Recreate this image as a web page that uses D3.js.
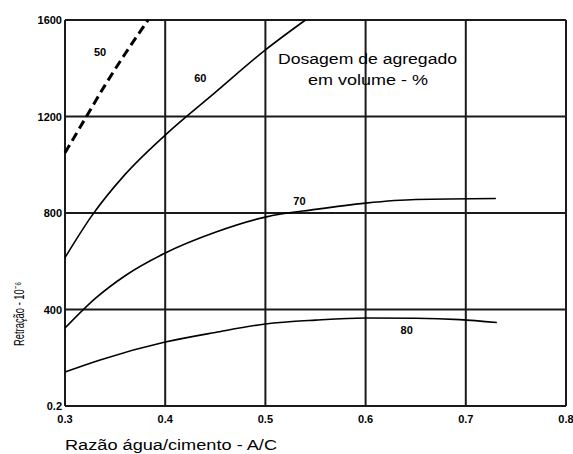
<!DOCTYPE html>
<html><head><meta charset="utf-8">
<script src="https://cdn.jsdelivr.net/npm/d3@7"></script>
<style>body{margin:0;background:#fff;}svg{display:block;}</style>
</head><body>
<script>
// Data
const xTicks = [0.3, 0.4, 0.5, 0.6, 0.7, 0.8];
const xTickLabels = ["0.3", "0.4", "0.5", "0.6", "0.7", "0.8"];
const yTicks = [0, 400, 800, 1200, 1600];
const yTickLabels = ["0.2", "400", "800", "1200", "1600"];

const series50 = [[0.3,1050],[0.32,1190],[0.34,1330],[0.36,1460],[0.383,1600]];
const series60 = [[0.3,615],[0.327,790],[0.36,960],[0.4,1123],[0.45,1300],[0.5,1476],[0.54,1600]];
const series70 = [[0.3,323],[0.33,445],[0.36,540],[0.4,634],[0.45,720],[0.5,783],[0.55,815],[0.6,841],[0.65,856],[0.73,860]];
const series80 = [[0.3,141],[0.335,191],[0.4,265],[0.45,305],[0.5,340],[0.55,356],[0.6,365],[0.65,364],[0.694,358],[0.731,346]];
const seriesNames = ["50","60","70","80"];

const W = 573, H = 454;
const svg = d3.select("body").append("svg").attr("width", W).attr("height", H);
const x = d3.scaleLinear().domain([0.3, 0.8]).range([65, 566]);
const y = d3.scaleLinear().domain([0, 1600]).range([406, 20]);

const grid = svg.append("g").attr("stroke", "#1a1a1a").attr("stroke-width", 2);
xTicks.forEach(t => grid.append("line").attr("x1", x(t)).attr("x2", x(t)).attr("y1", y(0)).attr("y2", y(1600)));
yTicks.forEach(t => grid.append("line").attr("x1", x(0.3)).attr("x2", x(0.8)).attr("y1", y(t)).attr("y2", y(t)));

const font = "Liberation Sans, Arial, sans-serif";
// tick labels
xTicks.forEach((t, i) => svg.append("text").attr("x", x(t)).attr("y", y(0) + 17)
  .attr("text-anchor", "middle").attr("font-family", font).attr("font-size", 11).attr("font-weight", "bold")
  .text(xTickLabels[i]));
yTicks.forEach((t, i) => svg.append("text").attr("x", x(0.3) - 3).attr("y", y(t) + 4)
  .attr("text-anchor", "end").attr("font-family", font).attr("font-size", 11).attr("font-weight", "bold")
  .text(yTickLabels[i]));

const line = d3.line().x(d => x(d[0])).y(d => y(d[1])).curve(d3.curveMonotoneX);
const curves = svg.append("g").attr("fill", "none").attr("stroke", "#000");
curves.append("path").datum(series50).attr("d", line).attr("stroke-width", 3).attr("stroke-dasharray", "9,5");
[series60, series70, series80].forEach(s => curves.append("path").datum(s).attr("d", line).attr("stroke-width", 1.6));

// curve labels
const labs = [[0.335, 1450, seriesNames[0]], [0.435, 1345, seriesNames[1]], [0.534, 835, seriesNames[2]], [0.641, 300, seriesNames[3]]];
labs.forEach(l => svg.append("text").attr("x", x(l[0])).attr("y", y(l[1])).attr("text-anchor", "middle")
  .attr("font-family", font).attr("font-size", 11).attr("font-weight", "bold").text(l[2]));

// annotation
svg.append("text").attr("x", 278).attr("y", 64).attr("font-family", font).attr("font-size", 14)
  .attr("textLength", 179).attr("lengthAdjust", "spacingAndGlyphs").text("Dosagem de agregado");
svg.append("text").attr("x", 308).attr("y", 85).attr("font-family", font).attr("font-size", 14)
  .attr("textLength", 120).attr("lengthAdjust", "spacingAndGlyphs").text("em volume - %");

// axis titles
svg.append("text").attr("x", 65).attr("y", 450).attr("font-family", font).attr("font-size", 14)
  .attr("textLength", 212).attr("lengthAdjust", "spacingAndGlyphs").text("Razão água/cimento - A/C");
svg.append("text").attr("transform", "translate(24,346) rotate(-90)").attr("font-family", font).attr("font-size", 14)
  .attr("textLength", 64).attr("lengthAdjust", "spacingAndGlyphs").text("Retração - 10⁻⁶");
</script>
</body></html>
